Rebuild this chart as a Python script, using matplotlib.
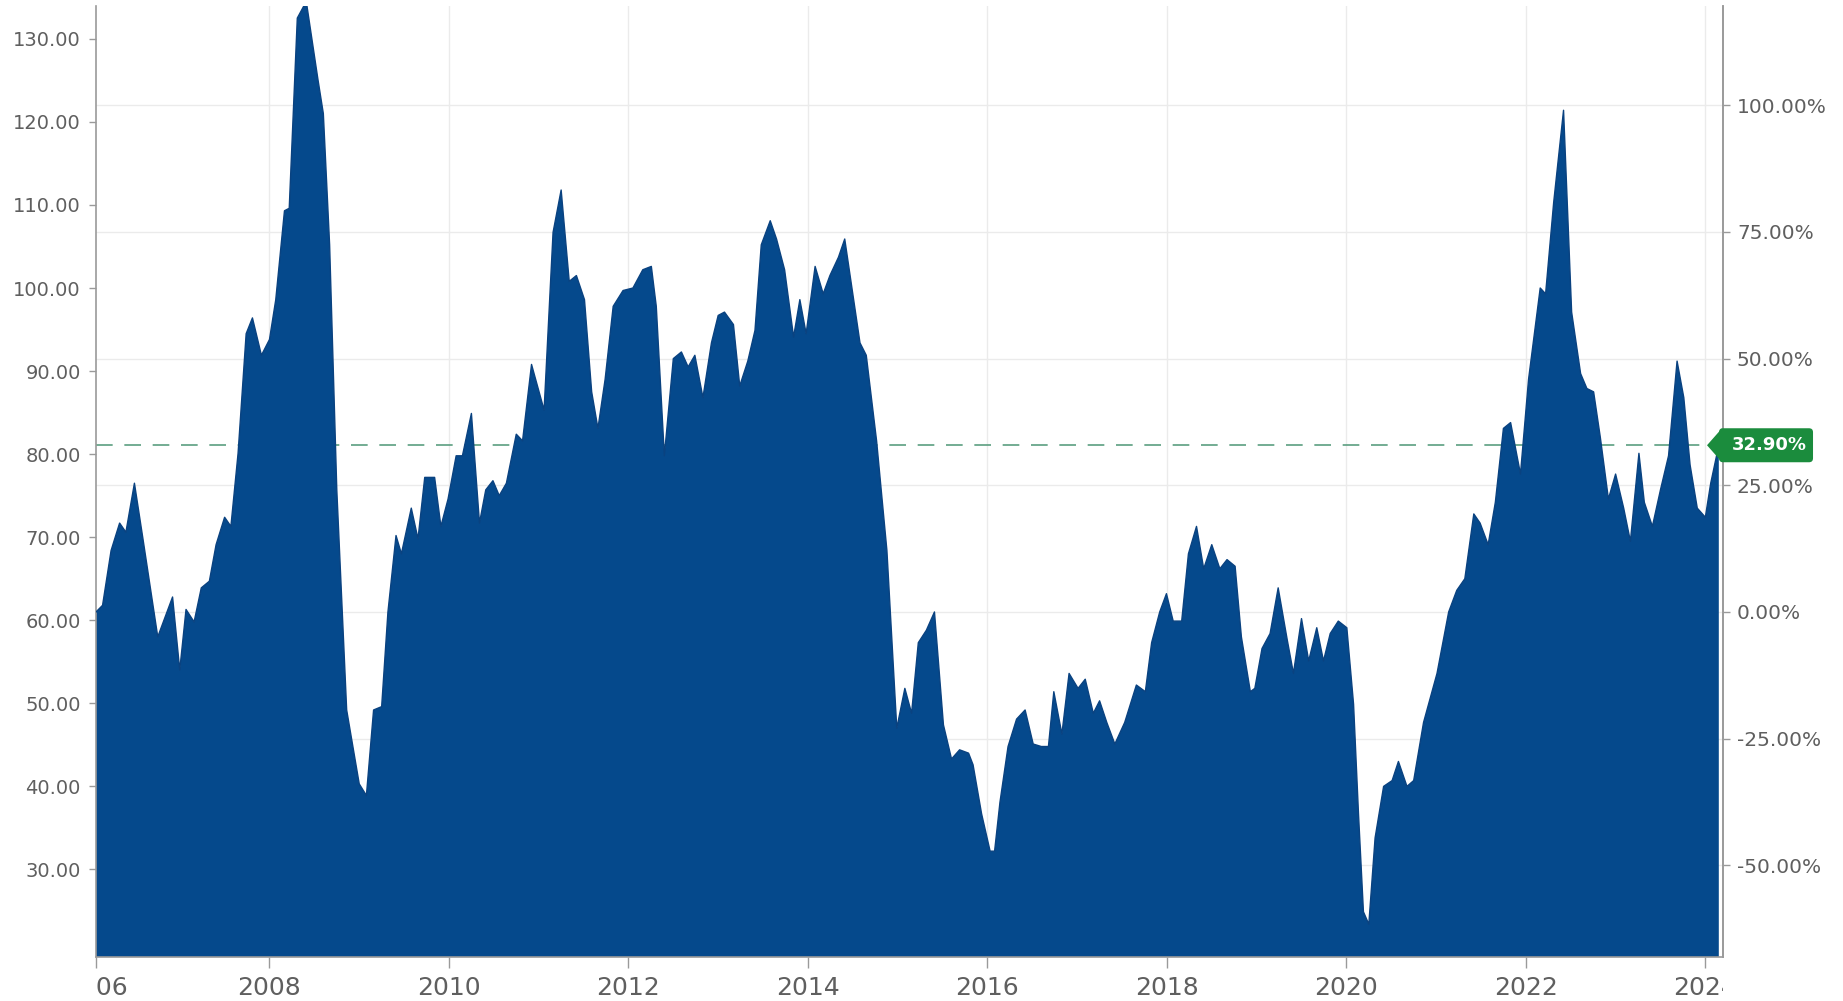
import numpy as np
import matplotlib
matplotlib.use('Agg')
import matplotlib.pyplot as plt
from matplotlib.patches import FancyBboxPatch, Polygon
from matplotlib.transforms import Bbox, TransformedBbox, IdentityTransform

# price series (decimal year, value)
dates = [2006.067, 2006.14, 2006.235, 2006.33, 2006.40, 2006.495, 2006.59, 2006.755, 2006.92, 2007.0,
         2007.07, 2007.16, 2007.24, 2007.33, 2007.405, 2007.50, 2007.57, 2007.65, 2007.74, 2007.81,
         2007.91, 2008.0, 2008.07, 2008.167, 2008.22, 2008.31, 2008.41, 2008.54, 2008.60, 2008.67,
         2008.75, 2008.86, 2009.0, 2009.08, 2009.16, 2009.25, 2009.32, 2009.41, 2009.47, 2009.58,
         2009.655, 2009.73, 2009.84, 2009.91, 2009.99, 2010.08, 2010.15, 2010.25, 2010.34, 2010.41,
         2010.49, 2010.56, 2010.64, 2010.75, 2010.82, 2010.92, 2011.06, 2011.16, 2011.25, 2011.34,
         2011.42, 2011.51, 2011.59, 2011.66, 2011.74, 2011.83, 2011.94, 2012.05, 2012.16, 2012.255,
         2012.31, 2012.40, 2012.50, 2012.59, 2012.665, 2012.74, 2012.83, 2012.925, 2013.0, 2013.07,
         2013.17, 2013.24, 2013.33, 2013.41, 2013.48, 2013.58, 2013.65, 2013.74, 2013.84, 2013.91,
         2013.98, 2014.08, 2014.17, 2014.245, 2014.34, 2014.41, 2014.49, 2014.58, 2014.65, 2014.765,
         2014.88, 2014.99, 2015.08, 2015.155, 2015.23, 2015.32, 2015.41, 2015.51, 2015.60, 2015.69,
         2015.79, 2015.84, 2015.935, 2016.03, 2016.08, 2016.14, 2016.23, 2016.325, 2016.42, 2016.51,
         2016.60, 2016.68, 2016.74, 2016.83, 2016.91, 2017.01, 2017.09, 2017.18, 2017.25, 2017.33,
         2017.42, 2017.53, 2017.66, 2017.76, 2017.83, 2017.92, 2017.995, 2018.07, 2018.165, 2018.24,
         2018.33, 2018.41, 2018.50, 2018.59, 2018.67, 2018.76, 2018.83, 2018.93, 2018.98, 2019.06,
         2019.15, 2019.24, 2019.34, 2019.41, 2019.50, 2019.58, 2019.67, 2019.745, 2019.82, 2019.91,
         2020.005, 2020.08, 2020.135, 2020.19, 2020.25, 2020.32, 2020.415, 2020.51, 2020.58, 2020.675,
         2020.75, 2020.86, 2021.01, 2021.14, 2021.23, 2021.32, 2021.42, 2021.49, 2021.58, 2021.66,
         2021.75, 2021.83, 2021.94, 2022.03, 2022.16, 2022.22, 2022.31, 2022.42, 2022.51, 2022.61,
         2022.68, 2022.755, 2022.83, 2022.92, 2023.0, 2023.09, 2023.165, 2023.26, 2023.32, 2023.41,
         2023.50, 2023.59, 2023.685, 2023.76, 2023.83, 2023.91, 2024.0, 2024.06, 2024.15]
values = [61.0, 61.8, 68.4, 71.7, 70.6, 76.5, 69.8, 58.0, 62.8, 54.0,
          61.3, 59.8, 63.9, 64.7, 69.1, 72.4, 71.3, 80.1, 94.5, 96.4,
          91.9, 93.8, 98.6, 109.3, 109.6, 132.5, 134.5, 125.1, 121.0, 105.2,
          75.7, 49.2, 40.3, 38.9, 49.2, 49.6, 61.0, 70.2, 68.0, 73.5,
          69.8, 77.2, 77.2, 71.3, 74.6, 79.8, 79.8, 84.9, 71.7, 75.7,
          76.8, 75.0, 76.5, 82.4, 81.6, 90.8, 85.3, 106.7, 111.8, 100.8,
          101.5, 98.6, 87.5, 83.1, 89.0, 97.8, 99.7, 100.0, 102.2, 102.6,
          97.8, 79.8, 91.5, 92.3, 90.5, 91.9, 86.8, 93.4, 96.7, 97.1,
          95.6, 88.2, 91.2, 94.9, 105.2, 108.1, 105.9, 102.2, 94.1, 98.6,
          94.5, 102.6, 99.3, 101.5, 103.7, 105.9, 100.0, 93.4, 91.9, 81.6,
          68.4, 47.0, 51.8, 48.8, 57.3, 58.8, 61.0, 47.4, 43.3, 44.4,
          44.0, 42.6, 36.7, 32.2, 32.2, 38.1, 44.8, 48.1, 49.2, 45.1,
          44.8, 44.8, 51.4, 46.3, 53.6, 51.8, 52.9, 48.8, 50.3, 47.7,
          45.1, 47.7, 52.2, 51.4, 57.3, 61.0, 63.2, 59.9, 59.9, 68.0,
          71.3, 66.2, 69.1, 66.2, 67.3, 66.5, 58.0, 51.4, 51.8, 56.6,
          58.4, 63.9, 57.7, 53.6, 60.2, 55.1, 59.1, 55.1, 58.4, 59.9,
          59.1, 49.9, 36.7, 24.9, 23.4, 33.8, 40.0, 40.7, 43.0, 40.0,
          40.7, 47.7, 53.6, 61.0, 63.6, 65.0, 72.8, 71.7, 69.1, 74.2,
          83.1, 83.8, 77.6, 89.0, 100.0, 99.3, 110.3, 121.4, 97.1, 89.7,
          87.9, 87.5, 82.0, 74.6, 77.6, 73.5, 69.5, 80.1, 74.2, 71.3,
          75.7, 79.8, 91.2, 86.8, 78.7, 73.5, 72.4, 76.5, 81.07]

year_ticks = [2006.067, 2008, 2010, 2012, 2014, 2016, 2018, 2020, 2022, 2024]
year_labels = ['2006', '2008', '2010', '2012', '2014', '2016', '2018', '2020', '2022', '2024']
left_ticks = [30, 40, 50, 60, 70, 80, 90, 100, 110, 120, 130]
pct_ticks = [-50, -25, 0, 25, 50, 75, 100]

base = values[0]
last = values[-1]
last_pct = (last / base - 1) * 100

def to_pct(v):
    return (np.asarray(v) / base - 1) * 100

def from_pct(p):
    return base * (1 + np.asarray(p) / 100)

fill_col = '#05498c'
txt_col = '#5f5f5f'
axis_col = '#9a9a9a'
grid_col = '#ebebeb'

fig = plt.figure(figsize=(18.43, 10.01), dpi=100)
ax = fig.add_axes([0.0521, 0.0443, 0.8828, 0.9501])

ax.set_xlim(2006.067, 2024.197)
ax.set_ylim(19.5, 134)

# grid: vertical at years, horizontal at the % ticks
for yr in year_ticks[1:]:
    ax.axvline(yr, color=grid_col, lw=1, zorder=0)
for p in pct_ticks:
    ax.axhline(from_pct(p), color=grid_col, lw=1, zorder=0)

ax.axhline(last, color='#5b9e80', lw=1.2, dashes=(10, 7), zorder=1)

ax.fill_between(dates, values, 0, color=fill_col, lw=0, zorder=2)
ax.plot(dates, values, color='#0a4280', lw=1.0, zorder=3)

ax.set_yticks(left_ticks)
ax.set_yticklabels([f'{t:.2f}' for t in left_ticks])
ax.set_xticks(year_ticks)
ax.set_xticklabels(year_labels)

ax.tick_params(axis='y', length=5, width=1, color=axis_col, labelcolor=txt_col, labelsize=14, pad=6)
ax.tick_params(axis='x', length=8, width=1, color=axis_col, labelcolor=txt_col, labelsize=18, pad=6)

for s in ['left', 'right', 'bottom']:
    ax.spines[s].set_color(axis_col)
    ax.spines[s].set_linewidth(1.2)
ax.spines['top'].set_visible(False)

sec = ax.secondary_yaxis('right', functions=(to_pct, from_pct))
sec.set_yticks(pct_ticks)
sec.set_yticklabels([f'{p:.2f}%' for p in pct_ticks])
sec.tick_params(length=5, width=1, color=axis_col, labelcolor=txt_col, labelsize=14.5, pad=5)
sec.spines['right'].set_color(axis_col)
sec.spines['right'].set_linewidth(1.2)

# year labels are cut at the plot edges
clip = TransformedBbox(Bbox([[0.0521, 0], [0.9349, 1]]), fig.transFigure)
for lab in ax.get_xticklabels():
    lab.set_clip_box(clip)
    lab.set_clip_on(True)

# green badge with last change
xa = ax.transAxes.transform((1, 0))[0]
yc = ax.transData.transform((2020, last))[1]
tip = xa - 16
badge = FancyBboxPatch((tip + 12, yc - 17), xa + 90 - (tip + 12), 34,
                       boxstyle='round,pad=0,rounding_size=4', transform=IdentityTransform(),
                       facecolor='#1b8c3d', edgecolor='none', zorder=10)
arrow = Polygon([(tip, yc), (tip + 15, yc + 17), (tip + 15, yc - 17)], closed=True,
                transform=IdentityTransform(), facecolor='#1b8c3d', edgecolor='none', zorder=10)
fig.add_artist(badge)
fig.add_artist(arrow)
fig.text(xa + 46, yc, f'{last_pct:.2f}%', transform=IdentityTransform(), color='white',
         fontsize=13, fontweight='bold', ha='center', va='center', zorder=11)

fig.savefig('out.png', dpi=100)
